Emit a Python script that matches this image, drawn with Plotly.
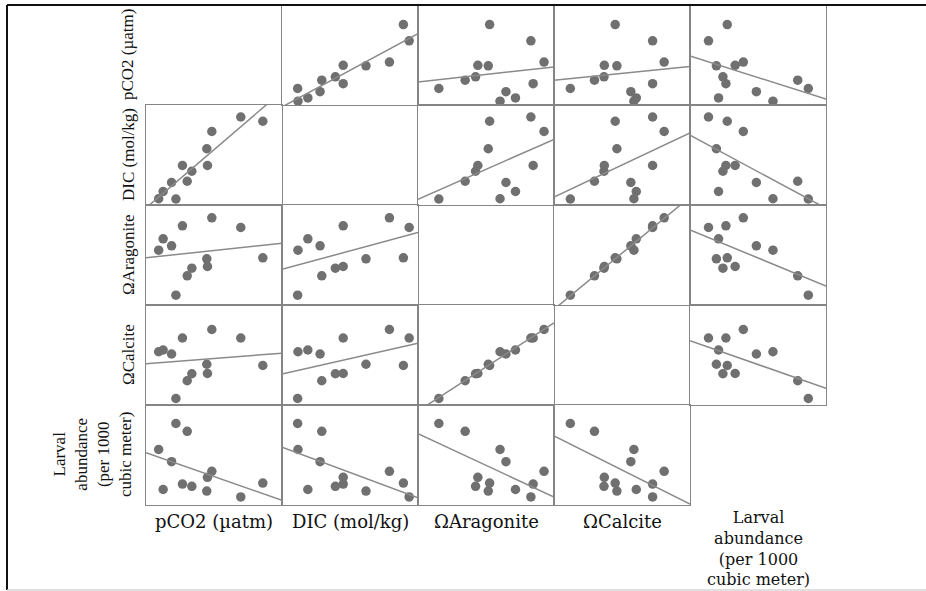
import numpy as np
import plotly.graph_objects as go
from plotly.subplots import make_subplots

# ---- data (12 observations) ----
pco2 = [393, 426, 488, 520, 568, 603, 637, 747, 752, 784, 997, 1159]
dic = [1947, 1976, 2012, 1946, 2080, 2017, 2057, 2147, 2080, 2216, 2274, 2257]
arag = [2.31, 2.65, 2.44, 0.96, 3.04, 1.54, 1.77, 2.05, 1.82, 3.28, 2.99, 2.08]
calc = [3.35, 3.42, 3.26, 1.48, 3.90, 2.19, 2.47, 2.85, 2.48, 4.24, 3.90, 2.80]
larval = [305, 105, 244, 435, 132, 396, 121, 97, 166, 196, 68, 137]

row_labels = ["pCO2 (µatm)", "DIC (mol/kg)", "ΩAragonite", "ΩCalcite",
              "Larval<br>abundance<br>(per 1000<br>cubic meter)"]
col_labels = ["pCO2 (µatm)", "DIC (mol/kg)", "ΩAragonite", "ΩCalcite",
              "Larval<br>abundance<br>(per 1000<br>cubic meter)"]

variables = [pco2, dic, arag, calc, larval]
# axis windows (x role) and spans
x_lo = [300, 1900, 0.5, 1.0, 0.0]
x_span = [1000, 400, 3.0, 4.0, 500]
y_shift = 0.055

n = len(variables)
fig = make_subplots(rows=n, cols=n, horizontal_spacing=0, vertical_spacing=0)

dot_color = "#707070"
line_color = "#8a8a8a"
border_color = "#858585"

for r in range(n):
    for c in range(n):
        xr = [x_lo[c], x_lo[c] + x_span[c]]
        yr = [x_lo[r] + y_shift * x_span[r], x_lo[r] + (1 + y_shift) * x_span[r]]
        if r != c:
            xv = np.array(variables[c], dtype=float)
            yv = np.array(variables[r], dtype=float)
            fig.add_trace(go.Scatter(x=xv, y=yv, mode="markers",
                                     marker=dict(color=dot_color, size=9.5, line=dict(width=0)),
                                     hoverinfo="skip"), row=r + 1, col=c + 1)
            b, a = np.polyfit(xv, yv, 1)
            lx = np.array(xr)
            fig.add_trace(go.Scatter(x=lx, y=a + b * lx, mode="lines",
                                     line=dict(color=line_color, width=1.5),
                                     hoverinfo="skip"), row=r + 1, col=c + 1)
        fig.update_xaxes(range=xr, row=r + 1, col=c + 1)
        fig.update_yaxes(range=yr, row=r + 1, col=c + 1)

fig.update_xaxes(showticklabels=False, showgrid=False, zeroline=False, ticks="",
                 showline=True, mirror=True, linecolor=border_color, linewidth=1)
fig.update_yaxes(showticklabels=False, showgrid=False, zeroline=False, ticks="",
                 showline=True, mirror=True, linecolor=border_color, linewidth=1)

L, R, T, B = 146, 826, 5, 505
W, H = R - L, B - T


def px(xp):
    return (xp - L) / W


def py(yp):
    return (B - yp) / H


annotations = []
row_font = dict(family="Liberation Serif, Times New Roman, serif", size=17, color="#111111")
col_font = dict(family="DejaVu Serif, serif", size=18, color="#111111")
col_font_small = dict(family="DejaVu Serif, serif", size=16, color="#111111")

for i, lab in enumerate(row_labels):
    cy = T + H / n * (i + 0.5)
    cx = 92 if i == 4 else 128
    annotations.append(dict(text=lab, x=px(cx), y=py(cy), xref="paper", yref="paper",
                            textangle=-90, showarrow=False, xanchor="center", yanchor="middle",
                            font=row_font))

for j, lab in enumerate(col_labels):
    cx = L + W / n * (j + 0.5)
    if j < 4:
        annotations.append(dict(text=lab, x=px(cx), y=py(521), xref="paper", yref="paper",
                                showarrow=False, xanchor="center", yanchor="middle", font=col_font))
    else:
        annotations.append(dict(text=lab, x=px(cx), y=py(507), xref="paper", yref="paper",
                                showarrow=False, xanchor="center", yanchor="top",
                                font=col_font_small, borderpad=0))

shapes = [
    dict(type="line", xref="paper", yref="paper", x0=px(7), x1=px(940), y0=py(5), y1=py(5),
         line=dict(color="#111111", width=2), layer="above"),
    dict(type="line", xref="paper", yref="paper", x0=px(7), x1=px(7), y0=py(5), y1=py(590),
         line=dict(color="#111111", width=2), layer="above"),
    dict(type="line", xref="paper", yref="paper", x0=px(7), x1=px(940), y0=py(590), y1=py(590),
         line=dict(color="#d6d6d6", width=1.5), layer="above"),
]

fig.update_layout(width=926, height=591, margin=dict(l=L, r=926 - R, t=T, b=591 - B),
                  paper_bgcolor="white", plot_bgcolor="white", showlegend=False,
                  annotations=annotations, shapes=shapes)

fig.write_html("out.html", config={"displayModeBar": False},
               post_script="document.body.style.margin='0';document.body.style.overflow='hidden';")
